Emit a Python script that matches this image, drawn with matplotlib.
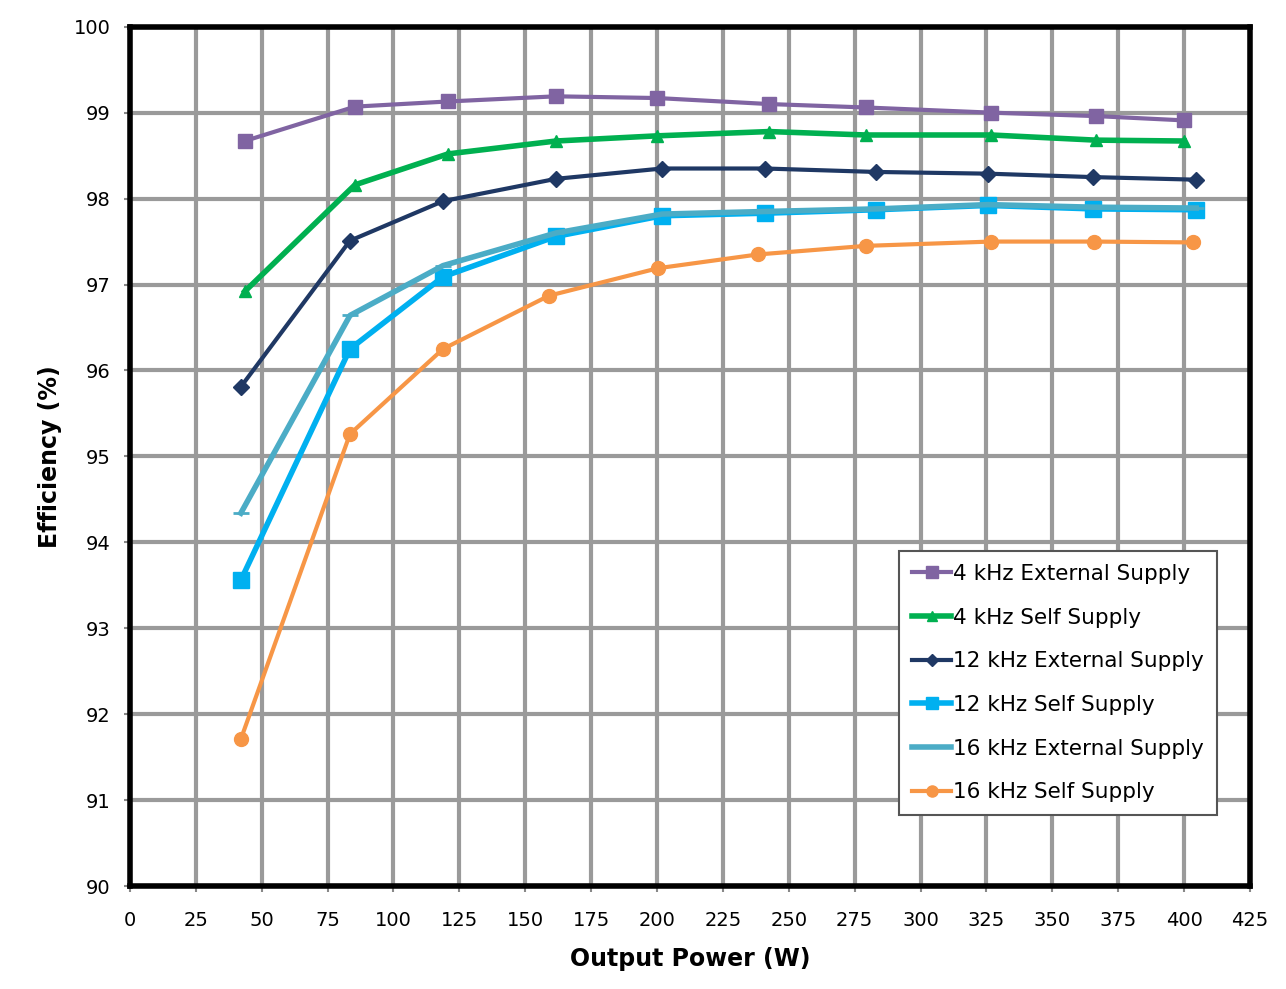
import matplotlib
matplotlib.use("Agg")
import matplotlib.pyplot as plt

power_4ext = [43.6, 85.4, 120.7, 161.7, 200.0, 242.5, 279.3, 326.8, 366.6, 400.0]
eff_4ext = [98.67, 99.07, 99.13, 99.19, 99.17, 99.10, 99.06, 99.00, 98.96, 98.91]

power_4self = [43.6, 85.4, 120.7, 161.7, 200.0, 242.5, 279.3, 326.8, 366.6, 400.0]
eff_4self = [96.92, 98.16, 98.52, 98.67, 98.73, 98.78, 98.74, 98.74, 98.68, 98.67]

power_12 = [42.1, 83.5, 118.8, 161.7, 201.9, 241.0, 283.1, 325.6, 365.5, 404.6]
eff_12ext = [95.81, 97.51, 97.97, 98.23, 98.35, 98.35, 98.31, 98.29, 98.25, 98.22]
eff_12self = [93.56, 96.25, 97.09, 97.56, 97.80, 97.83, 97.87, 97.92, 97.88, 97.87]

power_16ext = [42.1, 83.5, 118.8, 161.7, 201.9, 241.0, 283.1, 325.6, 365.5, 404.6]
eff_16ext = [94.34, 96.64, 97.22, 97.60, 97.82, 97.85, 97.88, 97.93, 97.90, 97.89]

power_16self = [42.1, 83.5, 118.8, 159.0, 200.4, 238.3, 279.3, 326.8, 365.9, 403.5]
eff_16self = [91.71, 95.26, 96.25, 96.87, 97.19, 97.35, 97.45, 97.50, 97.50, 97.49]

labels = ["4 kHz External Supply", "4 kHz Self Supply", "12 kHz External Supply",
          "12 kHz Self Supply", "16 kHz External Supply", "16 kHz Self Supply"]

x_ticks = list(range(0, 426, 25))
y_ticks = list(range(90, 101, 1))

fig = plt.figure(figsize=(12.86, 9.89), dpi=100)
ax = fig.add_axes([0.101, 0.104, 0.871, 0.869])

series = [
    (power_4ext, eff_4ext, "#8064A2", "s", 10, 3),
    (power_4self, eff_4self, "#00B050", "^", 9, 4),
    (power_12, eff_12ext, "#1F3864", "D", 8, 3),
    (power_12, eff_12self, "#00B0F0", "s", 11, 4),
    (power_16ext, eff_16ext, "#4BACC6", "_", 12, 4),
    (power_16self, eff_16self, "#F79646", "o", 10, 3),
]
for (xs, ys, c, m, ms, lw), lab in zip(series, labels):
    ax.plot(xs, ys, color=c, marker=m, markersize=ms, linewidth=lw,
            markeredgewidth=2 if m == "_" else 1, markeredgecolor=c, label=lab, zorder=3)

ax.set_xlim(0, 425)
ax.set_ylim(90, 100)
ax.set_xticks(x_ticks)
ax.set_yticks(y_ticks)
ax.tick_params(labelsize=14, length=4, width=1.5, color="#888888")
ax.tick_params(axis="x", pad=14)
ax.tick_params(axis="y", pad=10)
ax.grid(True, color="#9a9a9a", linewidth=3, zorder=0)
ax.set_axisbelow(True)
for sp in ax.spines.values():
    sp.set_linewidth(4)
    sp.set_color("black")

ax.set_xlabel("Output Power (W)", fontsize=17, fontweight="bold", labelpad=12)
ax.set_ylabel("Efficiency (%)", fontsize=17, fontweight="bold", labelpad=8)

leg = ax.legend(loc="lower right", bbox_to_anchor=(0.98, 0.07), fontsize=15.5,
                frameon=True, fancybox=False, edgecolor="#555555", framealpha=1,
                handlelength=1.8, handletextpad=0.1, labelspacing=1.1, borderpad=0.6,
                markerscale=0.8)
leg.get_frame().set_linewidth(1.5)

fig.savefig("out.png", dpi=100, facecolor="white")
